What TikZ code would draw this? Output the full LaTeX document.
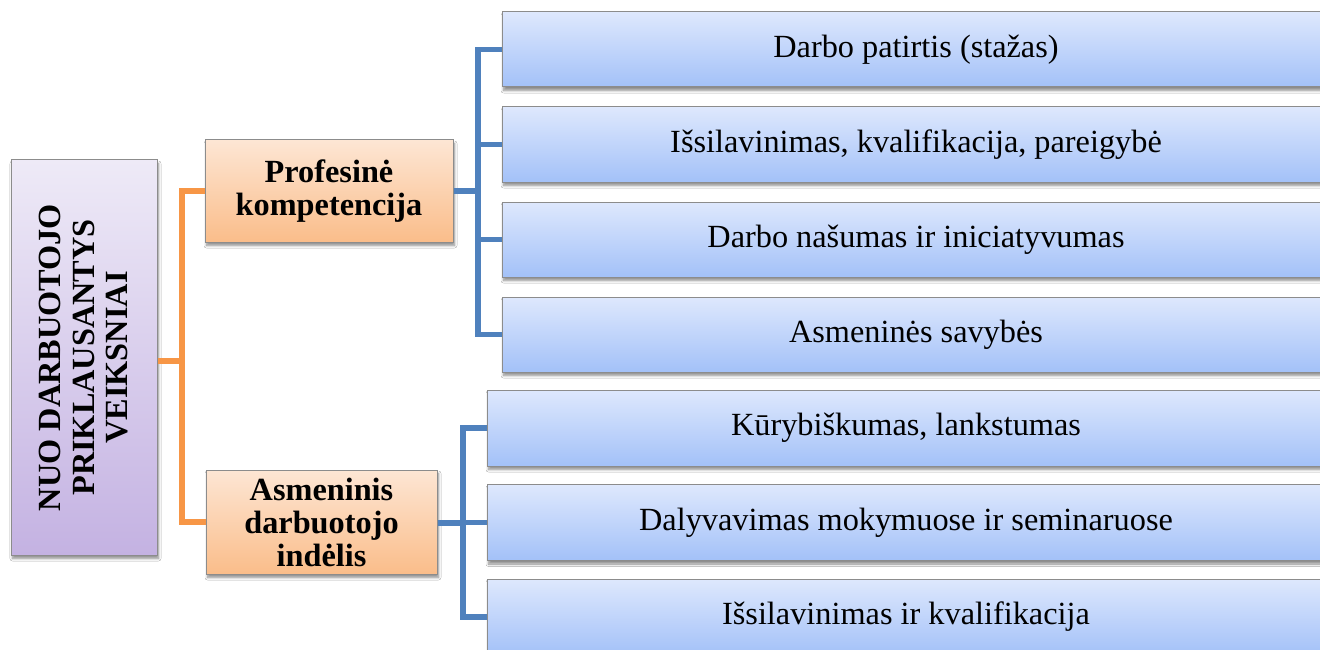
\documentclass[tikz,border=0pt]{standalone}
\usepackage{fontspec}
\setmainfont{Liberation Serif}
\usetikzlibrary{shadows.blur}

\definecolor{edgegray}{HTML}{8C8C8C}
\definecolor{blueline}{HTML}{4F81BD}
\definecolor{orangeline}{HTML}{F79646}
\definecolor{bluetop}{HTML}{DEE8FD}
\definecolor{bluebot}{HTML}{A3C1F8}
\definecolor{orangetop}{HTML}{FDE6D4}
\definecolor{orangebot}{HTML}{FABD8A}
\definecolor{purpletop}{HTML}{EEEAF7}
\definecolor{purplebot}{HTML}{C4B2E2}

\tikzset{
  boxbase/.style={draw=edgegray, line width=1pt, inner sep=0pt, align=center,
    blur shadow={shadow xshift=1.5pt, shadow yshift=-3.5pt, shadow blur steps=6,
      shadow blur radius=2.5pt, shadow opacity=45}},
  itembox/.style={boxbase, top color=bluetop, bottom color=bluebot,
    font=\fontsize{32.3}{34}\selectfont},
  groupbox/.style={boxbase, top color=orangetop, bottom color=orangebot,
    font=\fontsize{32.3}{33}\selectfont\bfseries},
  rootbox/.style={boxbase, top color=purpletop, bottom color=purplebot},
  bluelink/.style={draw=blueline, line width=5.5pt},
  orangelink/.style={draw=orangeline, line width=5.5pt}
}

\begin{document}
\begin{tikzpicture}[x=1pt, y=-1pt]
  \useasboundingbox (0,0) rectangle (1320,650);
  \clip (0,0) rectangle (1320,650);
  \fill[white] (0,0) rectangle (1320,650);

  % junction points of the two connector trees
  \coordinate (oj) at (182,361);
  \coordinate (uj) at (478,192);
  \coordinate (lj) at (463,523);

  % root
  \node[rootbox, minimum width=146pt, minimum height=395pt] (root) at (84,357.5) {};
  \node[rotate=90, align=center, font=\fontsize{32.3}{33.5}\selectfont\bfseries]
    (roottext) at (root.center) {NUO DARBUOTOJO\\PRIKLAUSANTYS\\VEIKSNIAI};

  % two groups
  \node[groupbox, minimum width=248pt, minimum height=102pt] (prof) at (329,191)
    {Profesinė\\kompetencija};
  \node[groupbox, minimum width=231pt, minimum height=104pt] (asm) at (321.5,522)
    {Asmeninis\\darbuotojo\\indėlis};

  % items of the first group
  \node[itembox, minimum width=828pt, minimum height=75pt] (u1) at (916,49.5)
    {Darbo patirtis (stažas)};
  \node[itembox, minimum width=828pt, minimum height=75pt] (u2) at (916,144.5)
    {Išsilavinimas, kvalifikacija, pareigybė};
  \node[itembox, minimum width=828pt, minimum height=75pt] (u3) at (916,239.5)
    {Darbo našumas ir iniciatyvumas};
  \node[itembox, minimum width=828pt, minimum height=75pt] (u4) at (916,334.5)
    {Asmeninės savybės};

  % items of the second group
  \node[itembox, minimum width=838pt, minimum height=76pt] (l1) at (906,428)
    {Kūrybiškumas, lankstumas};
  \node[itembox, minimum width=838pt, minimum height=76pt] (l2) at (906,522.5)
    {Dalyvavimas mokymuose ir seminaruose};
  \node[itembox, minimum width=838pt, minimum height=76pt] (l3) at (906,617)
    {Išsilavinimas ir kvalifikacija};

  % root to groups
  \draw[orangelink] (root.east |- oj) -- (oj);
  \draw[orangelink] (prof.west) -| (oj) |- (asm.west);

  % first group to its items
  \draw[bluelink] (prof.east) -- (prof.east -| uj);
  \draw[bluelink] (u1.west) -| (uj) |- (u4.west);
  \draw[bluelink] (u2.west) -- (u2.west -| uj);
  \draw[bluelink] (u3.west) -- (u3.west -| uj);

  % second group to its items
  \draw[bluelink] (asm.east |- lj) -- (lj);
  \draw[bluelink] (l1.west) -| (lj) |- (l3.west);
  \draw[bluelink] (l2.west) -- (l2.west -| lj);
\end{tikzpicture}
\end{document}
